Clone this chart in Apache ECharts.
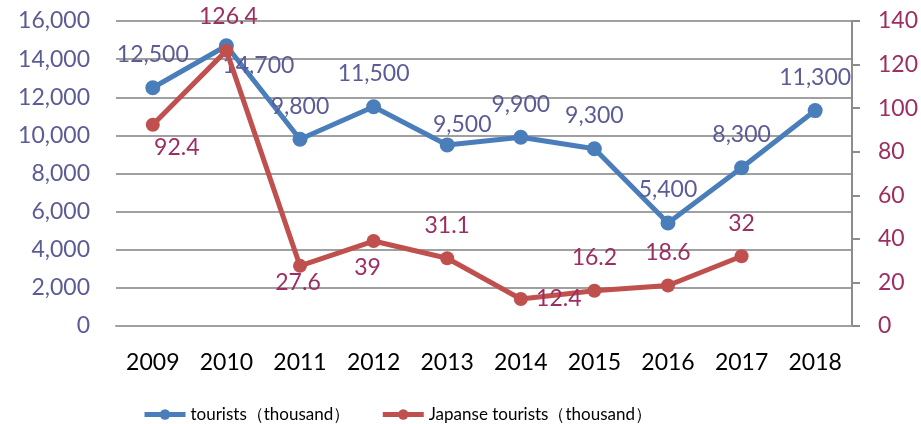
<!DOCTYPE html>
<html>
<head>
<meta charset="utf-8">
<script src="https://cdn.jsdelivr.net/npm/echarts@6/dist/echarts.min.js"></script>
<style>html,body{margin:0;padding:0;background:#fff;}#c{width:921px;height:424px;}</style>
</head>
<body>
<div id="c"></div>
<script>
var categories = ['2009','2010','2011','2012','2013','2014','2015','2016','2017','2018'];
var touristsName = 'tourists（thousand）';
var japanName = 'Japanse tourists（thousand）';
var tourists = [12500, 14700, 9800, 11500, 9500, 9900, 9300, 5400, 8300, 11300];
var japan = [92.4, 126.4, 27.6, 39, 31.1, 12.4, 16.2, 18.6, 32];
var leftTicks = {min: 0, max: 16000, interval: 2000};
var rightTicks = {min: 0, max: 140, interval: 20};

// label placement (style only)
var blueOffsets = {1: [32, 20], 4: [15, -20]};
var redOffsets = {0: [24, 23], 1: [2, -34], 2: [-2, 17], 3: [-6, 27], 5: [38, 0]};
var defaultOffset = [0, -33];

var FONT = 'Lato, "Open Sans", sans-serif';
var BLUE_TXT = '#5b5b96';
var RED_TXT = '#9c2e62';

function fmt(v){ return String(v).replace(/\B(?=(\d{3})+(?!\d))/g, ','); }

function build(values, offsets, color, formatter){
  return values.map(function(v, i){
    return {
      value: v,
      label: {
        show: true, position: 'inside',
        offset: offsets[i] || defaultOffset,
        color: color, fontFamily: FONT, fontSize: 23,
        formatter: function(p){ return formatter(p.value); }
      }
    };
  });
}

var chart = echarts.init(document.getElementById('c'), null, {renderer: 'canvas'});
chart.setOption({
  animation: false,
  backgroundColor: '#fff',
  grid: {left: 116, right: 69, top: 21, bottom: 98, containLabel: false},
  legend: {
    left: 137, top: 401,
    itemWidth: 41, itemHeight: 13, itemGap: 30,
    lineStyle: {width: 5},
    textStyle: {fontFamily: FONT, fontSize: 17, color: '#000'},
    data: [touristsName, japanName]
  },
  xAxis: {
    type: 'category', data: categories, boundaryGap: true,
    axisLine: {show: true, lineStyle: {color: '#a0a0a0', width: 2}},
    axisTick: {show: false},
    axisLabel: {color: '#000', fontFamily: FONT, fontSize: 23, margin: 25}
  },
  yAxis: [{
    type: 'value', min: leftTicks.min, max: leftTicks.max, interval: leftTicks.interval,
    axisLine: {show: false}, axisTick: {show: false},
    splitLine: {show: true, lineStyle: {color: '#a0a0a0', width: 2}},
    axisLabel: {color: BLUE_TXT, fontFamily: FONT, fontSize: 23, margin: 26,
      formatter: function(v){ return fmt(v); }}
  }, {
    type: 'value', position: 'right', min: rightTicks.min, max: rightTicks.max, interval: rightTicks.interval,
    axisLine: {show: true, lineStyle: {color: '#8c8c8c', width: 2}},
    axisTick: {show: true, inside: false, length: 8, lineStyle: {color: '#8c8c8c', width: 2}},
    splitLine: {show: false},
    axisLabel: {color: RED_TXT, fontFamily: FONT, fontSize: 23, margin: 26}
  }],
  series: [{
    name: touristsName, type: 'line', yAxisIndex: 0,
    data: build(tourists, blueOffsets, BLUE_TXT, fmt),
    symbol: 'circle', symbolSize: 15,
    lineStyle: {color: '#4a7ebb', width: 5},
    itemStyle: {color: '#4a7ebb'},
    z: 2
  }, {
    name: japanName, type: 'line', yAxisIndex: 1,
    data: build(japan, redOffsets, RED_TXT, function(v){ return String(v); }),
    symbol: 'circle', symbolSize: 14,
    lineStyle: {color: '#c0504d', width: 5},
    itemStyle: {color: '#c0504d'},
    z: 3
  }]
});
</script>
</body>
</html>
